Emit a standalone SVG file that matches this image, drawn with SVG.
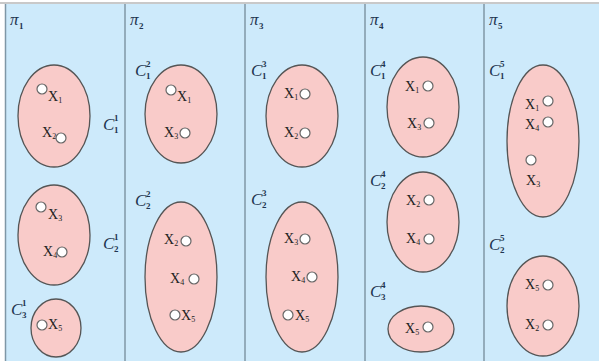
<svg xmlns="http://www.w3.org/2000/svg" width="599" height="361" viewBox="0 0 599 361">
<style>
.bg{fill:#cdeafb}
.div{stroke:#7f97a6;stroke-width:1.5}
.cl{fill:#f9cbc9;stroke:#555;stroke-width:1.3}
.pt{fill:#fff;stroke:#666;stroke-width:1.2}
.x{font-family:"Liberation Serif",serif;font-size:14px;fill:#222}
.s{font-size:8px}
.lb{font-family:"Liberation Serif",serif;font-style:italic;font-size:17px;fill:#1f3550}
.ls{font-family:"Liberation Serif",serif;font-size:9px;font-weight:bold;fill:#1f3550}
</style>
<rect x="0" y="0" width="599" height="361" fill="#fff"/>
<rect class="bg" x="5" y="4" width="594" height="357"/>
<line x1="0" y1="3" x2="599" y2="3" stroke="#c9c9c9" stroke-width="2"/>
<g id="dividers">
<line class="div" x1="5.5" y1="4" x2="5.5" y2="361"/>
<line class="div" x1="125" y1="4" x2="125" y2="361"/>
<line class="div" x1="245" y1="4" x2="245" y2="361"/>
<line class="div" x1="365" y1="4" x2="365" y2="361"/>
<line class="div" x1="484" y1="4" x2="484" y2="361"/>
</g>
<g id="labels">
<text class="lb" x="10" y="25">π</text><text class="ls" x="19" y="29">1</text>
<text class="lb" x="130" y="25">π</text><text class="ls" x="139" y="29">2</text>
<text class="lb" x="250" y="25">π</text><text class="ls" x="259" y="29">3</text>
<text class="lb" x="370" y="25">π</text><text class="ls" x="379" y="29">4</text>
<text class="lb" x="489" y="25">π</text><text class="ls" x="498" y="29">5</text>
</g>
<g id="p1">
<g id="c11">
<ellipse class="cl" cx="54" cy="116" rx="36" ry="51"/>
<circle class="pt" cx="42" cy="89" r="5"/><text class="x" x="48" y="101">X<tspan class="s" dy="2">1</tspan></text>
<text class="x" x="42" y="137">X<tspan class="s" dy="2">2</tspan></text><circle class="pt" cx="61" cy="138" r="5"/>
<text class="lb" x="103" y="130">C</text><text class="ls" x="114" y="121">1</text><text class="ls" x="114" y="133">1</text>
</g>
<g id="c21">
<ellipse class="cl" cx="54" cy="235" rx="36" ry="50"/>
<circle class="pt" cx="41" cy="207" r="5"/><text class="x" x="48" y="219">X<tspan class="s" dy="2">3</tspan></text>
<text class="x" x="43" y="256">X<tspan class="s" dy="2">4</tspan></text><circle class="pt" cx="62" cy="252" r="5"/>
<text class="lb" x="103" y="249">C</text><text class="ls" x="114" y="240">1</text><text class="ls" x="114" y="252">2</text>
</g>
<g id="c31">
<ellipse class="cl" cx="56" cy="328" rx="25" ry="29"/>
<circle class="pt" cx="42" cy="325" r="5"/><text class="x" x="48" y="329">X<tspan class="s" dy="2">5</tspan></text>
<text class="lb" x="11" y="315">C</text><text class="ls" x="22" y="306">1</text><text class="ls" x="22" y="318">3</text>
</g>
</g>
<g id="p2">
<g id="c12">
<ellipse class="cl" cx="181" cy="114" rx="36" ry="49"/>
<circle class="pt" cx="171" cy="90" r="5"/><text class="x" x="177" y="101">X<tspan class="s" dy="2">1</tspan></text>
<text class="x" x="164" y="137">X<tspan class="s" dy="2">3</tspan></text><circle class="pt" cx="185" cy="133" r="5"/>
<text class="lb" x="135" y="76">C</text><text class="ls" x="146" y="67">2</text><text class="ls" x="146" y="79">1</text>
</g>
<g id="c22">
<ellipse class="cl" cx="181" cy="277" rx="36" ry="75"/>
<text class="x" x="164" y="244">X<tspan class="s" dy="2">2</tspan></text><circle class="pt" cx="186" cy="241" r="5"/>
<text class="x" x="170" y="283">X<tspan class="s" dy="2">4</tspan></text><circle class="pt" cx="194" cy="279" r="5"/>
<circle class="pt" cx="175" cy="315" r="5"/><text class="x" x="181" y="320">X<tspan class="s" dy="2">5</tspan></text>
<text class="lb" x="135" y="206">C</text><text class="ls" x="146" y="197">2</text><text class="ls" x="146" y="209">2</text>
</g>
</g>
<g id="p3">
<g id="c13">
<ellipse class="cl" cx="302" cy="116" rx="36" ry="51"/>
<text class="x" x="284" y="98">X<tspan class="s" dy="2">1</tspan></text><circle class="pt" cx="305" cy="94" r="5"/>
<text class="x" x="284" y="137">X<tspan class="s" dy="2">2</tspan></text><circle class="pt" cx="305" cy="133" r="5"/>
<text class="lb" x="251" y="76">C</text><text class="ls" x="262" y="67">3</text><text class="ls" x="262" y="79">1</text>
</g>
<g id="c23">
<ellipse class="cl" cx="302" cy="277" rx="36" ry="75"/>
<text class="x" x="284" y="243">X<tspan class="s" dy="2">3</tspan></text><circle class="pt" cx="305" cy="239" r="5"/>
<text class="x" x="291" y="281">X<tspan class="s" dy="2">4</tspan></text><circle class="pt" cx="312" cy="277" r="5"/>
<circle class="pt" cx="288" cy="315" r="5"/><text class="x" x="295" y="320">X<tspan class="s" dy="2">5</tspan></text>
<text class="lb" x="251" y="205">C</text><text class="ls" x="262" y="196">3</text><text class="ls" x="262" y="208">2</text>
</g>
</g>
<g id="p4">
<g id="c14">
<ellipse class="cl" cx="423" cy="107" rx="36" ry="50"/>
<text class="x" x="405" y="91">X<tspan class="s" dy="2">1</tspan></text><circle class="pt" cx="428" cy="86" r="5"/>
<text class="x" x="407" y="128">X<tspan class="s" dy="2">3</tspan></text><circle class="pt" cx="429" cy="123" r="5"/>
<text class="lb" x="370" y="76">C</text><text class="ls" x="381" y="67">4</text><text class="ls" x="381" y="79">1</text>
</g>
<g id="c24">
<ellipse class="cl" cx="423" cy="222" rx="36" ry="50"/>
<text class="x" x="406" y="205">X<tspan class="s" dy="2">2</tspan></text><circle class="pt" cx="429" cy="200" r="5"/>
<text class="x" x="406" y="243">X<tspan class="s" dy="2">4</tspan></text><circle class="pt" cx="429" cy="239" r="5"/>
<text class="lb" x="370" y="186">C</text><text class="ls" x="381" y="177">4</text><text class="ls" x="381" y="189">2</text>
</g>
<g id="c34">
<ellipse class="cl" cx="421" cy="329" rx="33" ry="23"/>
<text class="x" x="405" y="333">X<tspan class="s" dy="2">5</tspan></text><circle class="pt" cx="428" cy="327" r="5"/>
<text class="lb" x="370" y="297">C</text><text class="ls" x="381" y="288">4</text><text class="ls" x="381" y="300">3</text>
</g>
</g>
<g id="p5">
<g id="c15">
<ellipse class="cl" cx="543" cy="141" rx="36" ry="76"/>
<text class="x" x="525" y="109">X<tspan class="s" dy="2">1</tspan></text><circle class="pt" cx="548" cy="101" r="5"/>
<text class="x" x="525" y="129">X<tspan class="s" dy="2">4</tspan></text><circle class="pt" cx="548" cy="122" r="5" stroke="#333"/>
<circle class="pt" cx="531" cy="160" r="5"/><text class="x" x="526" y="185">X<tspan class="s" dy="2">3</tspan></text>
<text class="lb" x="489" y="76">C</text><text class="ls" x="500" y="67">5</text><text class="ls" x="500" y="79">1</text>
</g>
<g id="c25">
<ellipse class="cl" cx="543" cy="306" rx="36" ry="50"/>
<text class="x" x="525" y="289">X<tspan class="s" dy="2">5</tspan></text><circle class="pt" cx="548" cy="285" r="5"/>
<text class="x" x="525" y="329">X<tspan class="s" dy="2">2</tspan></text><circle class="pt" cx="548" cy="325" r="5"/>
<text class="lb" x="489" y="250">C</text><text class="ls" x="500" y="241">5</text><text class="ls" x="500" y="253">2</text>
</g>
</g>
</svg>
